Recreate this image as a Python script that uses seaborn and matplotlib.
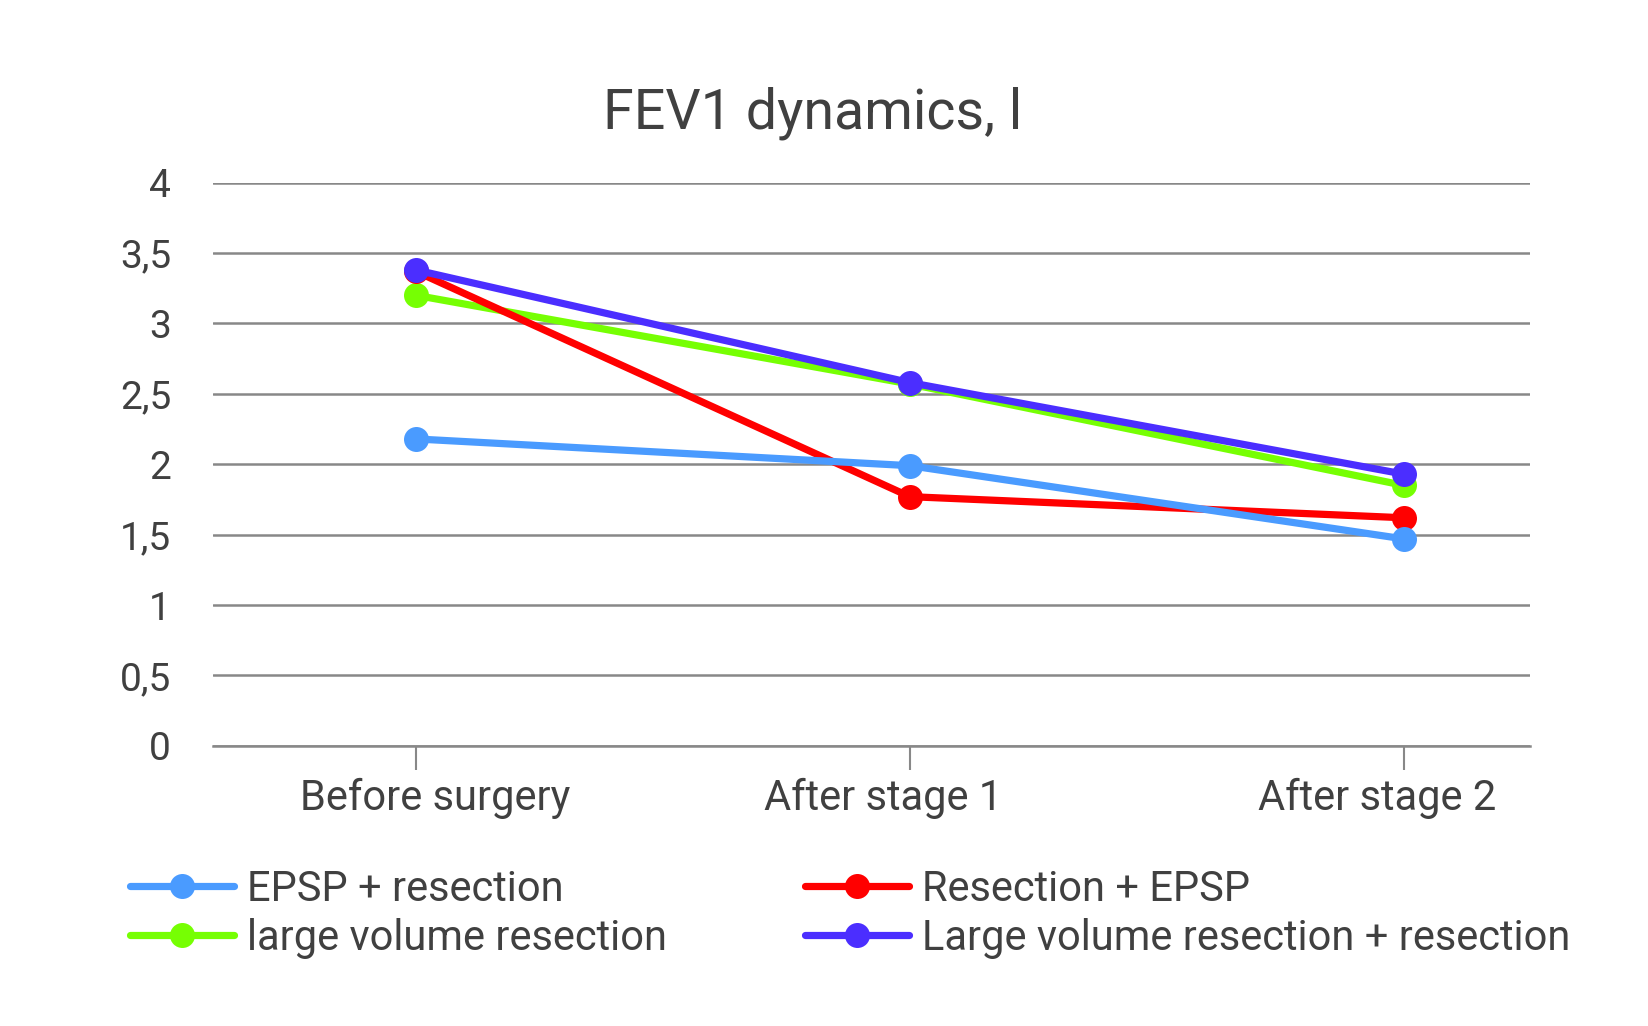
import matplotlib
matplotlib.use("Agg")
import matplotlib.pyplot as plt
import matplotlib.transforms as mtransforms
import seaborn as sns
import pandas as pd

categories = ["Before surgery", "After stage 1", "After stage 2"]
series_names = ["EPSP + resection", "large volume resection",
                "Resection + EPSP", "Large volume resection + resection"]
epsp_resection = [2.18, 1.99, 1.47]
large_volume = [3.20, 2.57, 1.85]
resection_epsp = [3.37, 1.77, 1.62]
large_plus_resection = [3.38, 2.58, 1.93]
y_ticks = [0, 0.5, 1, 1.5, 2, 2.5, 3, 3.5, 4]
y_tick_labels = ["0", "0,5", "1", "1,5", "2", "2,5", "3", "3,5", "4"]

colors = {
    "EPSP + resection": "#4A9BFF",
    "large volume resection": "#76FF03",
    "Resection + EPSP": "#FF0000",
    "Large volume resection + resection": "#4B2EFF",
}
values = {
    "EPSP + resection": epsp_resection,
    "large volume resection": large_volume,
    "Resection + EPSP": resection_epsp,
    "Large volume resection + resection": large_plus_resection,
}

sns.set_theme(style="white")
plt.rcParams['font.family'] = ['Roboto', 'DejaVu Sans']
text_color = "#404040"

fig = plt.figure(figsize=(16.49, 10.26), dpi=100)
ax = fig.add_axes([0.129, 0.273, 0.799, 0.549])

draw_order = ["large volume resection", "Resection + EPSP",
              "EPSP + resection", "Large volume resection + resection"]
for name in draw_order:
    df = pd.DataFrame({"x": list(range(len(categories))), "y": values[name]})
    sns.lineplot(data=df, x="x", y="y", ax=ax, color=colors[name], linewidth=5.2,
                 marker="o", markersize=18, markeredgewidth=0, label=name, zorder=3)
handles_list, labels_list = ax.get_legend_handles_labels()
hmap = dict(zip(labels_list, handles_list))
ax.get_legend().remove()

ax.set_xlim(-0.411, 2.256)
ax.set_ylim(0, 4)
ax.set_yticks(y_ticks)
ax.set_yticklabels(y_tick_labels)
ax.set_xticks(range(len(categories)))
ax.set_xticklabels(categories)
ax.set_xlabel("")
ax.set_ylabel("")
ax.grid(axis="y", color="#888888", linewidth=1.8)
ax.grid(axis="x", visible=False)
for s in ["top", "right", "left"]:
    ax.spines[s].set_visible(False)
ax.spines["bottom"].set_color("#888888")
ax.spines["bottom"].set_linewidth(1.8)
ax.tick_params(axis="y", length=0, pad=30, labelsize=28, labelcolor=text_color)
ax.tick_params(axis="x", length=17, width=1.5, color="#888888", direction="out",
               pad=6, labelsize=30, labelcolor=text_color, bottom=True)

# small horizontal label offsets as in the reference (in points)
label_shifts = [14, -19, -19]
for lbl, dx in zip(ax.get_xticklabels(), label_shifts):
    lbl.set_transform(lbl.get_transform() +
                      mtransforms.ScaledTranslation(dx / 72, 0, fig.dpi_scale_trans))

fig.suptitle("FEV1 dynamics, l", x=0.493, y=0.89, va="center", fontsize=40,
             color=text_color)

fig.legend([hmap[n] for n in series_names], series_names, ncol=2,
           loc="upper left", bbox_to_anchor=(0.056, 0.190), frameon=False,
           fontsize=30, handlelength=2.5, handletextpad=0.32, columnspacing=3.3,
           labelspacing=0.2, labelcolor=text_color)

fig.savefig("out.png", dpi=100)
